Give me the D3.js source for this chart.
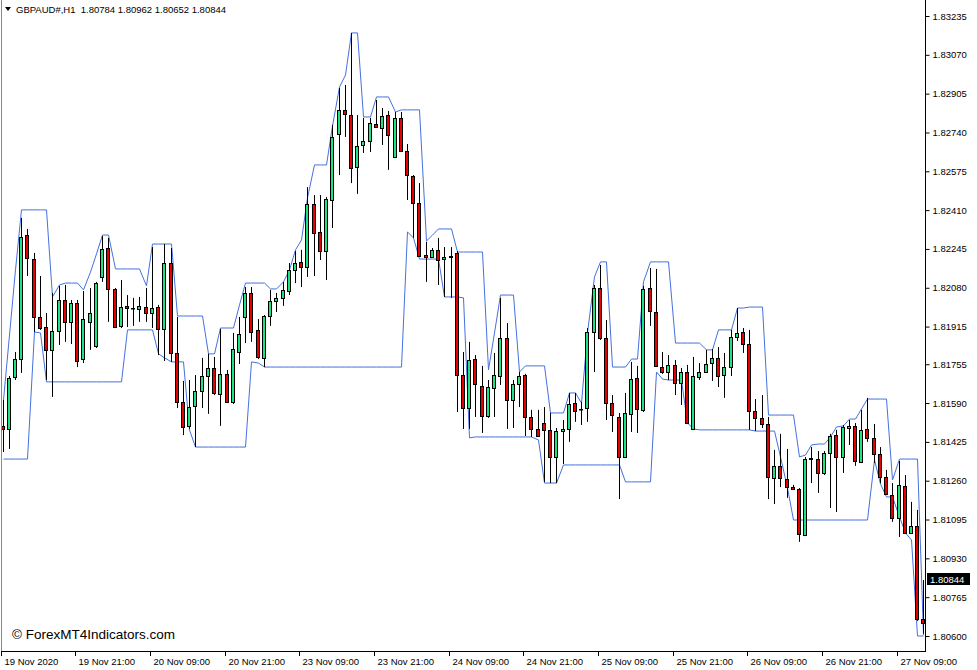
<!DOCTYPE html>
<html><head><meta charset="utf-8">
<script src="https://cdn.jsdelivr.net/npm/d3@7"></script>
<style>body{margin:0;background:#fff;} svg{display:block}</style>
</head><body>
<svg id="c" width="977" height="670"></svg>
<script>
const openP=[1.81493,1.81480,1.81701,1.81777,1.82304,1.82202,1.81956,1.81913,1.81816,1.81896,1.82028,1.81935,1.82015,1.81777,1.81935,1.81833,1.82126,1.82249,1.82075,1.81918,1.82003,1.81994,1.81990,1.81998,1.81973,1.81998,1.81905,1.82185,1.81803,1.81595,1.81493,1.81578,1.81641,1.81705,1.81739,1.81629,1.81714,1.81595,1.81807,1.81956,1.82058,1.81901,1.81782,1.81960,1.82024,1.82037,1.82066,1.82156,1.82190,1.82168,1.82436,1.82317,1.82236,1.82453,1.82734,1.82836,1.82814,1.82593,1.82687,1.82704,1.82776,1.82759,1.82814,1.82636,1.82802,1.82661,1.82555,1.82440,1.82219,1.82211,1.82241,1.82202,1.82211,1.82228,1.81709,1.81569,1.81777,1.81663,1.81535,1.81654,1.81705,1.81867,1.81603,1.81671,1.81709,1.81531,1.81480,1.81505,1.81476,1.81361,1.81471,1.81480,1.81590,1.81565,1.81569,1.81892,1.82079,1.81867,1.81590,1.81531,1.81361,1.81544,1.81697,1.81561,1.82079,1.81977,1.81743,1.81722,1.81752,1.81675,1.81722,1.81480,1.81701,1.81722,1.81760,1.81782,1.81709,1.81743,1.81871,1.81892,1.81841,1.81556,1.81527,1.81501,1.81272,1.81323,1.81267,1.81233,1.81225,1.81029,1.81352,1.81352,1.81293,1.81378,1.81454,1.81361,1.81484,1.81493,1.81340,1.81480,1.81442,1.81374,1.81276,1.81199,1.81102,1.81238,1.81038,1.81068,1.80672];
const highP=[1.81603,1.81705,1.81807,1.82377,1.82330,1.82228,1.82130,1.81973,1.82058,1.82088,1.82092,1.82028,1.82028,1.82066,1.82079,1.82105,1.82300,1.82292,1.82079,1.82113,1.82049,1.82037,1.82041,1.82079,1.82253,1.82007,1.82266,1.82249,1.81956,1.81684,1.81688,1.81709,1.81782,1.81799,1.81786,1.81905,1.81731,1.81888,1.81956,1.82083,1.82083,1.81947,1.81964,1.82071,1.82058,1.82105,1.82185,1.82236,1.82241,1.82508,1.82474,1.82474,1.82466,1.82772,1.82929,1.82942,1.83163,1.82814,1.82802,1.82802,1.82878,1.82844,1.82831,1.82827,1.82827,1.82691,1.82559,1.82525,1.82275,1.82249,1.82292,1.82253,1.82253,1.82236,1.81807,1.81850,1.81794,1.81748,1.81688,1.81803,1.82037,1.81930,1.81688,1.81722,1.81714,1.81561,1.81561,1.81573,1.81548,1.81484,1.81518,1.81633,1.81633,1.81595,1.81909,1.82092,1.82177,1.81943,1.81624,1.81548,1.81633,1.81765,1.81748,1.82088,1.82164,1.82160,1.81807,1.81794,1.81773,1.81739,1.81752,1.81786,1.81760,1.81816,1.81820,1.81828,1.81803,1.81901,1.81994,1.81909,1.81901,1.81607,1.81624,1.81531,1.81391,1.81459,1.81395,1.81242,1.81229,1.81361,1.81403,1.81386,1.81386,1.81459,1.81476,1.81497,1.81518,1.81505,1.81561,1.81612,1.81501,1.81403,1.81306,1.81250,1.81344,1.81284,1.81170,1.81136,1.80838];
const lowP=[1.81382,1.81395,1.81688,1.81718,1.82130,1.81892,1.81901,1.81688,1.81616,1.81837,1.81850,1.81841,1.81743,1.81760,1.81816,1.81824,1.82105,1.81935,1.81909,1.81909,1.81913,1.81918,1.81935,1.81935,1.81909,1.81794,1.81769,1.81765,1.81569,1.81454,1.81480,1.81403,1.81569,1.81544,1.81624,1.81493,1.81590,1.81586,1.81756,1.81845,1.81850,1.81777,1.81743,1.81918,1.81977,1.82003,1.82049,1.82100,1.82083,1.82126,1.82130,1.82198,1.82113,1.82334,1.82559,1.82721,1.82525,1.82479,1.82653,1.82657,1.82759,1.82687,1.82581,1.82632,1.82657,1.82453,1.82292,1.82211,1.82105,1.82207,1.82092,1.82041,1.82037,1.81552,1.81480,1.81480,1.81531,1.81463,1.81527,1.81531,1.81667,1.81480,1.81484,1.81573,1.81450,1.81446,1.81446,1.81255,1.81250,1.81250,1.81331,1.81425,1.81510,1.81497,1.81510,1.81722,1.81858,1.81518,1.81467,1.81182,1.81357,1.81467,1.81463,1.81552,1.81918,1.81743,1.81714,1.81688,1.81624,1.81582,1.81501,1.81476,1.81688,1.81718,1.81684,1.81658,1.81612,1.81705,1.81854,1.81803,1.81476,1.81471,1.81484,1.81182,1.81161,1.81233,1.81187,1.81221,1.81000,1.81025,1.81250,1.81208,1.81284,1.81144,1.81127,1.81293,1.81412,1.81323,1.81335,1.81425,1.81335,1.81250,1.81199,1.81085,1.81021,1.81034,1.81034,1.80664,1.80610];
const closeP=[1.81480,1.81697,1.81777,1.82296,1.82207,1.81956,1.81909,1.81816,1.81896,1.82028,1.81935,1.82015,1.81769,1.81947,1.81973,1.82100,1.82245,1.82075,1.81913,1.81998,1.81994,1.81992,1.82003,1.81973,1.81994,1.81905,1.82185,1.81803,1.81595,1.81488,1.81573,1.81641,1.81705,1.81739,1.81633,1.81714,1.81595,1.81820,1.81884,1.82058,1.81892,1.81786,1.81960,1.82024,1.82037,1.82071,1.82156,1.82185,1.82168,1.82436,1.82313,1.82236,1.82457,1.82721,1.82836,1.82819,1.82589,1.82683,1.82704,1.82780,1.82763,1.82810,1.82729,1.82802,1.82661,1.82559,1.82440,1.82215,1.82211,1.82241,1.82198,1.82211,1.82215,1.81709,1.81569,1.81773,1.81671,1.81535,1.81658,1.81709,1.81867,1.81603,1.81671,1.81705,1.81531,1.81480,1.81450,1.81476,1.81361,1.81471,1.81480,1.81586,1.81556,1.81563,1.81892,1.82079,1.81867,1.81590,1.81539,1.81361,1.81548,1.81692,1.81565,1.82075,1.81981,1.81748,1.81722,1.81752,1.81675,1.81722,1.81505,1.81705,1.81722,1.81756,1.81782,1.81705,1.81743,1.81871,1.81888,1.81841,1.81556,1.81527,1.81501,1.81276,1.81323,1.81272,1.81233,1.81225,1.81034,1.81352,1.81357,1.81293,1.81378,1.81450,1.81361,1.81488,1.81493,1.81344,1.81476,1.81442,1.81374,1.81276,1.81204,1.81102,1.81242,1.81038,1.81068,1.80672,1.80655];
const upperBand=[1.81603,1.81879,1.82156,1.82411,1.82411,1.82411,1.82411,1.82411,1.82041,1.82092,1.82100,1.82100,1.82100,1.82071,1.82147,1.82224,1.82304,1.82304,1.82160,1.82160,1.82160,1.82160,1.82160,1.82088,1.82266,1.82266,1.82266,1.82266,1.81960,1.81960,1.81960,1.81960,1.81960,1.81799,1.81799,1.81909,1.81909,1.81909,1.82007,1.82100,1.82100,1.82100,1.82100,1.82075,1.82075,1.82105,1.82156,1.82241,1.82283,1.82462,1.82602,1.82602,1.82602,1.82768,1.82933,1.82984,1.83163,1.83163,1.82806,1.82806,1.82891,1.82891,1.82891,1.82827,1.82836,1.82836,1.82836,1.82836,1.82279,1.82304,1.82330,1.82330,1.82330,1.82232,1.82232,1.82232,1.82232,1.82232,1.81731,1.81888,1.82049,1.82049,1.82049,1.81722,1.81748,1.81748,1.81748,1.81748,1.81548,1.81548,1.81548,1.81633,1.81633,1.81590,1.81888,1.82126,1.82190,1.82190,1.81743,1.81743,1.81743,1.81777,1.81777,1.82105,1.82190,1.82190,1.82190,1.82190,1.81845,1.81845,1.81845,1.81845,1.81845,1.81816,1.81816,1.81901,1.81901,1.81901,1.81994,1.81994,1.81998,1.81998,1.81998,1.81539,1.81539,1.81539,1.81539,1.81539,1.81361,1.81369,1.81412,1.81416,1.81416,1.81446,1.81488,1.81493,1.81522,1.81522,1.81565,1.81607,1.81607,1.81607,1.81607,1.81263,1.81352,1.81352,1.81352,1.81352,1.80604];
const lowerBand=[1.81352,1.81352,1.81352,1.81352,1.81352,1.81892,1.81888,1.81680,1.81680,1.81680,1.81680,1.81680,1.81680,1.81680,1.81680,1.81680,1.81680,1.81680,1.81680,1.81680,1.81901,1.81901,1.81901,1.81901,1.81901,1.81799,1.81782,1.81765,1.81765,1.81765,1.81476,1.81403,1.81403,1.81403,1.81403,1.81403,1.81403,1.81403,1.81403,1.81403,1.81765,1.81760,1.81743,1.81743,1.81743,1.81743,1.81743,1.81743,1.81743,1.81743,1.81743,1.81743,1.81743,1.81743,1.81743,1.81743,1.81743,1.81743,1.81743,1.81743,1.81743,1.81743,1.81743,1.81743,1.81743,1.82317,1.82292,1.82202,1.82202,1.82202,1.82202,1.82041,1.82041,1.82041,1.82037,1.81442,1.81446,1.81446,1.81446,1.81446,1.81446,1.81446,1.81446,1.81446,1.81446,1.81446,1.81433,1.81250,1.81250,1.81250,1.81327,1.81327,1.81327,1.81327,1.81327,1.81327,1.81327,1.81327,1.81327,1.81327,1.81255,1.81255,1.81255,1.81255,1.81255,1.81722,1.81692,1.81688,1.81688,1.81688,1.81505,1.81480,1.81476,1.81476,1.81476,1.81476,1.81476,1.81476,1.81476,1.81476,1.81476,1.81471,1.81471,1.81471,1.81471,1.81361,1.81229,1.81093,1.81093,1.81093,1.81093,1.81093,1.81093,1.81093,1.81093,1.81093,1.81093,1.81093,1.81093,1.81093,1.81348,1.81246,1.81191,1.81191,1.81106,1.81038,1.81008,1.80600,1.80600];
const priceTicks=[1.83235,1.83070,1.82905,1.82740,1.82575,1.82410,1.82245,1.82080,1.81915,1.81755,1.81590,1.81425,1.81260,1.81095,1.80930,1.80765,1.80600];
const timeTickIndex=[0,12,24,36,48,60,72,84,96,108,120,132,144];
const timeTickLabels=["19 Nov 2020","19 Nov 21:00","20 Nov 09:00","20 Nov 21:00","23 Nov 09:00","23 Nov 21:00","24 Nov 09:00","24 Nov 21:00","25 Nov 09:00","25 Nov 21:00","26 Nov 09:00","26 Nov 21:00","27 Nov 09:00"];
const headerText="GBPAUD#,H1  1.80784 1.80962 1.80652 1.80844";
const lastPrice=1.80844;
const watermark="\u00A9 ForexMT4Indicators.com";

const W=977,H=670, plotR=925, plotB=651;
const svg=d3.select("#c");
const font="'Liberation Sans', Arial, sans-serif";
const data=openP.map((o,i)=>({i,o,h:highP[i],l:lowP[i],c:closeP[i],up:upperBand[i],lo:lowerBand[i]}));
const x=d3.scaleBand().domain(d3.range(data.length)).range([-0.5,926.5]);
const cx=i=>Math.round(x(i)+x.bandwidth()/2);
const y=d3.scaleLinear().domain([1.80600,1.83235]).range([636,16]);

svg.append("rect").attr("width",W).attr("height",H).attr("fill","#fff");
svg.append("defs").append("clipPath").attr("id","clip").append("rect").attr("x",1).attr("y",0).attr("width",plotR-1).attr("height",plotB);
const g=svg.append("g").attr("clip-path","url(#clip)");

const lineGen=key=>d3.line().x(d=>cx(d.i)+0.5).y(d=>y(d[key]));
g.append("path").datum(data).attr("d",lineGen("up")).attr("fill","none").attr("stroke","#4470e0").attr("stroke-width",1);
g.append("path").datum(data).attr("d",lineGen("lo")).attr("fill","none").attr("stroke","#4470e0").attr("stroke-width",1);

g.selectAll("line.wick").data(data).join("line").attr("class","wick")
 .attr("x1",d=>cx(d.i)+0.5).attr("x2",d=>cx(d.i)+0.5)
 .attr("y1",d=>y(d.h)).attr("y2",d=>y(d.l)).attr("stroke","#000").attr("stroke-width",1);
g.selectAll("rect.body").data(data).join("rect").attr("class","body")
 .attr("x",d=>cx(d.i)-1.5).attr("width",3)
 .attr("y",d=>Math.round(y(Math.max(d.o,d.c)))+0.5)
 .attr("height",d=>Math.max(0.5,Math.round(y(Math.min(d.o,d.c)))-Math.round(y(Math.max(d.o,d.c)))))
 .attr("fill",d=>d.c>=d.o?"#1ee383":"#e60000").attr("stroke","#000").attr("stroke-width",1);

// frame
svg.append("line").attr("x1",1.5).attr("x2",1.5).attr("y1",0).attr("y2",plotB).attr("stroke","#888");
svg.append("line").attr("x1",plotR+0.5).attr("x2",plotR+0.5).attr("y1",0).attr("y2",plotB+0.5).attr("stroke","#000");
svg.append("line").attr("x1",1).attr("x2",plotR+1).attr("y1",plotB+0.5).attr("y2",plotB+0.5).attr("stroke","#000");

// right axis
const ra=svg.append("g").attr("transform",`translate(${plotR+0.5},0)`)
 .call(d3.axisRight(y).tickValues(priceTicks).tickSize(4).tickPadding(3).tickFormat(d3.format(".5f")));
ra.select(".domain").remove();
ra.selectAll("text").attr("font-family",font).attr("font-size","9.5px").attr("fill","#000");
ra.selectAll("line").attr("stroke","#000");

// bottom axis ticks and labels
const tk=svg.append("g").selectAll("g").data(timeTickIndex).join("g")
 .attr("transform",d=>`translate(${cx(d)-1.5},${plotB})`);
tk.append("line").attr("y1",0).attr("y2",5).attr("stroke","#000");
tk.append("text").attr("x",3).attr("y",14).attr("font-family",font).attr("font-size","9.5px")
 .text((d,k)=>timeTickLabels[k]);

// last price box
const ly=Math.round(y(lastPrice));
svg.append("rect").attr("x",927).attr("y",ly-6).attr("width",43).attr("height",12).attr("fill","#000");
svg.append("text").attr("x",930).attr("y",ly+3.5).attr("fill","#fff").attr("font-family",font).attr("font-size","9.5px").text(d3.format(".5f")(lastPrice));

// header
svg.append("path").attr("d","M5,7 L11,7 L8,11 Z").attr("fill","#000");
svg.append("text").attr("x",16).attr("y",13).attr("font-family",font).attr("font-size","9.5px").style("white-space","pre").text(headerText);
// watermark
svg.append("text").attr("x",12).attr("y",639).attr("font-family",font).attr("font-size","13.5px").attr("fill","#000").text(watermark);
</script>
</body></html>
